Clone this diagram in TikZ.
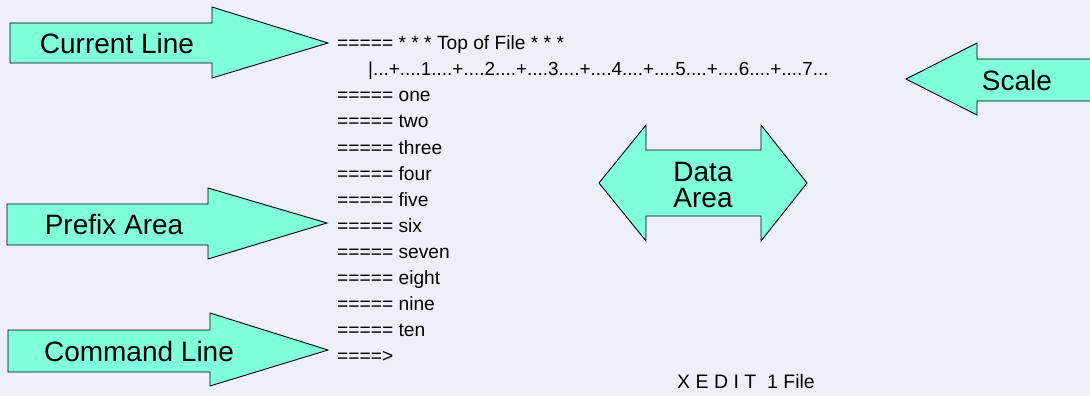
\documentclass[tikz,border=0pt]{standalone}
\usepackage{fontspec}
\setmainfont{Liberation Sans}
\definecolor{bgc}{RGB}{238,240,248}
\definecolor{arrowfill}{RGB}{127,255,218}
\begin{document}
\begin{tikzpicture}[x=1pt,y=-1pt,
  arrowshape/.style={draw=black,line width=0.9pt,fill=arrowfill,line join=miter},
  biglabel/.style={font=\fontsize{28}{28}\selectfont,inner sep=0pt,align=center},
  listline/.style={font=\fontsize{19.2}{22}\selectfont,anchor=base west,inner sep=0pt},
]
\useasboundingbox (0,0) rectangle (1090,396);
\fill[bgc] (0,0) rectangle (1090,396);
\clip (0,0) rectangle (1090,396);
% Current Line arrow
\draw[arrowshape] (10,23) -- (212,23) -- (212,7) -- (328,43) -- (212,78) -- (212,63) -- (10,63) -- cycle;
\node[biglabel] (cur) at (117,43) {Current Line};
% Prefix Area arrow
\draw[arrowshape] (7,204) -- (208,204) -- (208,188) -- (327,223) -- (208,259) -- (208,245) -- (7,245) -- cycle;
\node[biglabel] (pre) at (114,224) {Prefix Area};
% Command Line arrow
\draw[arrowshape] (8,330) -- (210,330) -- (210,313) -- (328,350) -- (210,386) -- (210,372) -- (8,372) -- cycle;
\node[biglabel] (cmd) at (139,351) {Command Line};
% Scale arrow
\draw[arrowshape] (906,79) -- (977,43) -- (977,59) -- (1100,59) -- (1100,101) -- (977,101) -- (977,115) -- cycle;
\node[biglabel] (scl) at (1017,80) {Scale};
% Data Area double arrow
\draw[arrowshape] (599,183) -- (646,125) -- (646,150) -- (761,150) -- (761,125) -- (807,183) -- (761,241) -- (761,216) -- (646,216) -- (646,241) -- cycle;
\node[biglabel] (dat) at (703,185) {Data\\[-2pt]Area};
% file lines
\node[listline] (l0) at (337,50) {===== * * * Top of File * * *};
\node[listline,font=\fontsize{18.9}{22}\selectfont] (l1) at (368,76) {|...+....1....+....2....+....3....+....4....+....5....+....6....+....7...};
\node[listline] (l2) at (337,102) {===== one};
\node[listline] (l3) at (337,128) {===== two};
\node[listline] (l4) at (337,154) {===== three};
\node[listline] (l5) at (337,180) {===== four};
\node[listline] (l6) at (337,206) {===== five};
\node[listline] (l7) at (337,232) {===== six};
\node[listline] (l8) at (337,258) {===== seven};
\node[listline] (l9) at (337,284) {===== eight};
\node[listline] (l10) at (337,310) {===== nine};
\node[listline] (l11) at (337,336) {===== ten};
\node[listline] (l12) at (337,362) {====>};
\node[listline,font=\fontsize{19.5}{22}\selectfont] (xed) at (677,388) {X E D I T \ 1 File};
\end{tikzpicture}
\end{document}
